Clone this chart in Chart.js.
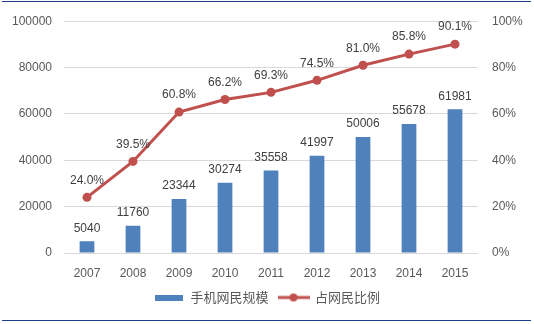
<!DOCTYPE html>
<html>
<head>
<meta charset="utf-8">
<script src="https://cdn.jsdelivr.net/npm/chart.js@4/dist/chart.umd.min.js"></script>
<style>
  html, body { margin: 0; padding: 0; background: #fff; }
  #wrap { position: relative; width: 534px; height: 324px; }
  .rule { position: absolute; left: 2px; width: 529px; height: 1px; background: #1F3D8C; }
</style>
</head>
<body>
<div id="wrap">
  <canvas id="c" width="534" height="324"></canvas>
  <div class="rule" style="top:1px"></div>
  <div class="rule" style="top:320px"></div>
</div>
<script>
// Mobile internet users (10k) and share of all internet users (%), 2007-2015
const years = ['2007', '2008', '2009', '2010', '2011', '2012', '2013', '2014', '2015'];
const mobileUsers = [5040, 11760, 23344, 30274, 35558, 41997, 50006, 55678, 61981];
const mobileShare = [24.0, 39.5, 60.8, 66.2, 69.3, 74.5, 81.0, 85.8, 90.1];
const userAxis = { min: 0, max: 100000, step: 20000 };
const shareAxis = { min: 0, max: 100, step: 20 };

const BAR_COLOR = '#4F81BD';
const LINE_COLOR = '#C0504D';
const TEXT_COLOR = '#595959';
const FONT = '"Liberation Sans", Arial, sans-serif';

Chart.defaults.font.family = FONT;
Chart.defaults.font.size = 12;
Chart.defaults.color = TEXT_COLOR;

// legend swatches
function barSwatch() {
  const cv = document.createElement('canvas');
  cv.width = 28; cv.height = 6;
  const g = cv.getContext('2d');
  g.fillStyle = BAR_COLOR;
  g.fillRect(0, 0, 28, 6);
  return cv;
}
function lineSwatch() {
  const cv = document.createElement('canvas');
  cv.width = 32; cv.height = 10;
  const g = cv.getContext('2d');
  g.strokeStyle = LINE_COLOR;
  g.lineWidth = 3;
  g.beginPath(); g.moveTo(0, 5); g.lineTo(32, 5); g.stroke();
  g.fillStyle = LINE_COLOR;
  g.beginPath(); g.arc(16, 5, 4, 0, Math.PI * 2); g.fill();
  return cv;
}
const swatches = [barSwatch(), lineSwatch()];

// value labels above bars and points
const valueLabels = {
  id: 'valueLabels',
  afterDatasetsDraw(chart) {
    const ctx = chart.ctx;
    ctx.save();
    ctx.font = '12px ' + FONT;
    ctx.fillStyle = '#404040';
    ctx.textAlign = 'center';
    ctx.textBaseline = 'middle';
    chart.data.datasets.forEach((ds, i) => {
      const meta = chart.getDatasetMeta(i);
      const isLine = ds.type === 'line';
      meta.data.forEach((el, j) => {
        const txt = isLine ? ds.data[j].toFixed(1) + '%' : String(ds.data[j]);
        ctx.fillText(txt, el.x, el.y - (isLine ? 17 : 13));
      });
    });
    ctx.restore();
  }
};

new Chart(document.getElementById('c'), {
  data: {
    labels: years,
    datasets: [
      {
        type: 'line',
        label: '占网民比例',
        data: mobileShare,
        yAxisID: 'y1',
        borderColor: LINE_COLOR,
        backgroundColor: LINE_COLOR,
        borderWidth: 3,
        pointRadius: 4.5,
        pointBackgroundColor: LINE_COLOR,
        pointBorderWidth: 0,
        tension: 0,
        order: 0
      },
      {
        type: 'bar',
        label: '手机网民规模',
        data: mobileUsers,
        yAxisID: 'y',
        backgroundColor: BAR_COLOR,
        categoryPercentage: 1,
        barPercentage: 0.32,
        order: 1
      }
    ]
  },
  options: {
    responsive: false,
    animation: false,
    layout: { padding: { top: 19, bottom: 10, left: 0, right: 0 } },
    plugins: {
      tooltip: { enabled: false },
      legend: {
        position: 'bottom',
        labels: {
          usePointStyle: true,
          pointStyleWidth: 30,
          padding: 10,
          color: TEXT_COLOR,
          font: { family: '"Noto Sans CJK SC", sans-serif', size: 13 },
          generateLabels(chart) {
            const items = Chart.defaults.plugins.legend.labels.generateLabels(chart);
            items.forEach(it => { it.pointStyle = swatches[it.datasetIndex === 1 ? 0 : 1]; });
            return items.sort((a, b) => b.datasetIndex - a.datasetIndex);
          }
        }
      }
    },
    scales: {
      x: {
        grid: { display: false },
        border: { display: false },
        ticks: { padding: 5, color: TEXT_COLOR },
        afterFit(s) { s.height = 28; }
      },
      y: {
        position: 'left',
        min: userAxis.min,
        max: userAxis.max,
        ticks: { stepSize: userAxis.step, padding: 12, color: TEXT_COLOR, callback: v => String(v) },
        grid: { color: '#D9D9D9', lineWidth: 1, drawTicks: false },
        border: { display: false },
        afterFit(s) { s.width = 64; }
      },
      y1: {
        position: 'right',
        min: shareAxis.min,
        max: shareAxis.max,
        ticks: { stepSize: shareAxis.step, padding: 14, color: TEXT_COLOR, callback: v => v + '%' },
        grid: { display: false, drawTicks: false },
        border: { display: false },
        afterFit(s) { s.width = 56; }
      }
    }
  },
  plugins: [valueLabels]
});
</script>
</body>
</html>
